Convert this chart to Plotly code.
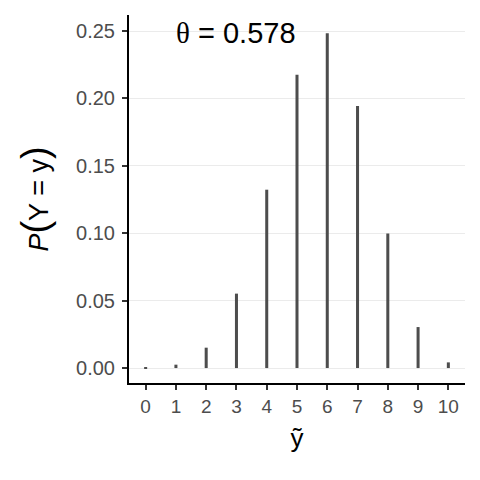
import plotly.graph_objects as go

y_values = [0, 1, 2, 3, 4, 5, 6, 7, 8, 9, 10]
probabilities = [0.0002, 0.0025, 0.0151, 0.0552, 0.1323, 0.2175, 0.2483, 0.1944, 0.0998, 0.0304, 0.0042]
y_ticks = [0.00, 0.05, 0.10, 0.15, 0.20, 0.25]
y_tick_labels = ["0.00", "0.05", "0.10", "0.15", "0.20", "0.25"]
theta_label = '<span style="font-family:Liberation Serif">θ</span> = 0.578'
y_title = ('<i>P</i><span style="font-size:38px">(</span>Y = y'
           '<span style="font-size:38px">)</span>')

fig = go.Figure()
fig.add_trace(go.Bar(
    x=y_values, y=probabilities, width=0.1,
    marker=dict(color="#4d4d4d", line=dict(width=0)),
    hoverinfo="skip",
))

fig.add_annotation(
    x=3, y=0.2485, xref="x", yref="y", text=theta_label, showarrow=False,
    font=dict(family="Liberation Sans", size=29, color="black"),
    xanchor="center", yanchor="middle",
)

fig.update_layout(
    width=480, height=480,
    margin=dict(l=129, r=15, t=15, b=97, autoexpand=False),
    paper_bgcolor="white", plot_bgcolor="white",
    showlegend=False,
    font=dict(family="Liberation Sans", color="#4d4d4d"),
    xaxis=dict(
        range=[-0.55, 10.55], tickmode="array", tickvals=y_values,
        ticktext=[str(v) for v in y_values],
        showgrid=False, zeroline=False,
        showline=True, linecolor="black", linewidth=2,
        ticks="outside", ticklen=5, tickwidth=1.5, tickcolor="#333333",
        tickfont=dict(size=19, color="#4d4d4d"),
        title=dict(text="ỹ", font=dict(size=26, color="black"), standoff=13),
    ),
    yaxis=dict(
        range=[-0.0111, 0.2619], tickmode="array", tickvals=y_ticks,
        ticktext=y_tick_labels,
        showgrid=True, gridcolor="#ebebeb", gridwidth=1.2, zeroline=False,
        showline=True, linecolor="black", linewidth=2,
        ticks="outside", ticklen=5, tickwidth=1.5, tickcolor="#333333",
        tickfont=dict(size=20, color="#4d4d4d"), ticklabelstandoff=3,
        title=dict(text=y_title, font=dict(size=27, color="black"), standoff=20),
    ),
)

fig.write_html("out.html", config={"displayModeBar": False},
               post_script="document.body.style.margin='0';")
